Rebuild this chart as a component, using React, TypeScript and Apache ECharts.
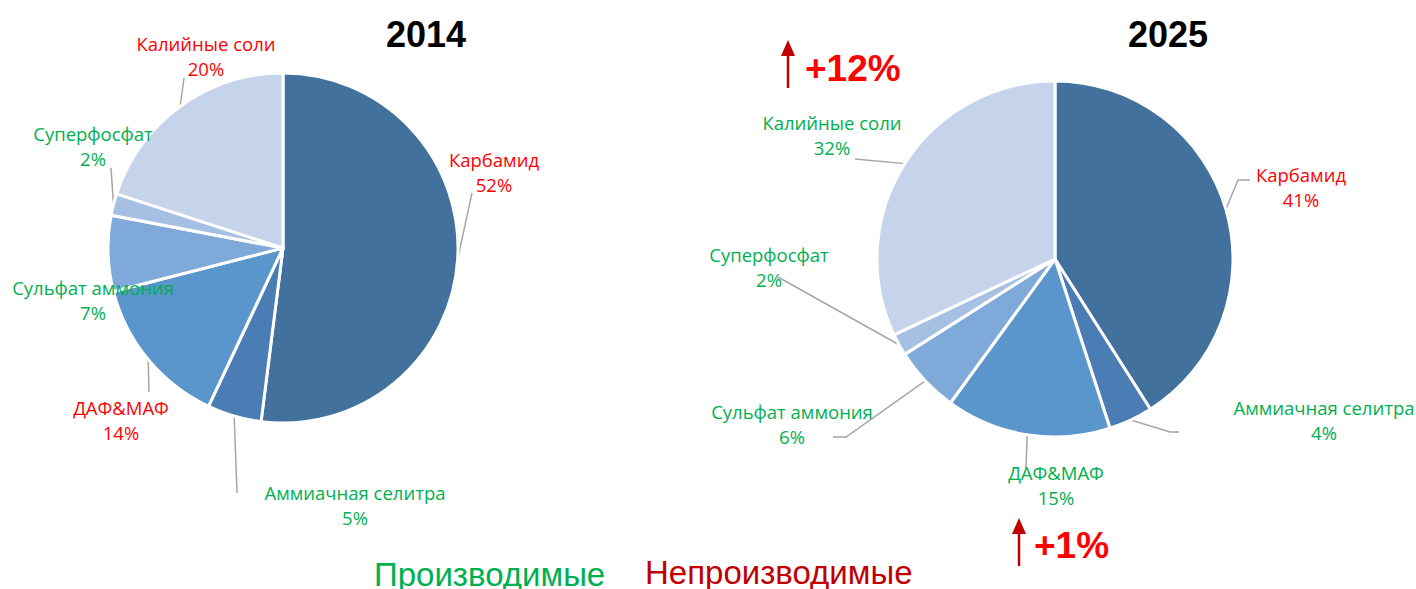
import React, { useEffect, useRef } from "react";
import * as echarts from "echarts";

const categories = [
  "Карбамид",
  "Аммиачная селитра",
  "ДАФ&МАФ",
  "Сульфат аммония",
  "Суперфосфат",
  "Калийные соли",
];
const values2014 = [52, 5, 14, 7, 2, 20];
const values2025 = [41, 4, 15, 6, 2, 32];
// true = produced (green), false = not produced (red)
const produced2014 = [false, true, false, true, true, false];
const produced2025 = [false, true, true, true, true, true];
const sliceColors = ["#41719C", "#4A7DB4", "#5A96CB", "#7EA9D9", "#A6C0E4", "#C5D4EA"];
const yearLabels = ["2014", "2025"];
const changeLabels = ["+12%", "+1%"];
const legendLabels = ["Производимые", "Непроизводимые"];

// label anchor positions (layout only)
const labelPos2014 = [
  [494, 172],
  [355, 505],
  [121, 420],
  [93, 300],
  [93, 146],
  [206, 56],
];
const labelPos2025 = [
  [1301, 187],
  [1324, 420],
  [1056, 485],
  [792, 424],
  [769, 267],
  [832, 135],
];
// label-line bend/end points after the library's start point on the slice edge (layout only)
const lineEnds2014: number[][][] = [
  [[472, 193]],
  [[237, 493]],
  [[149, 392]],
  [],
  [[111, 168]],
  [[184, 78]],
];
const lineEnds2025: number[][][] = [
  [[1238, 180], [1250, 180]],
  [[1170, 432], [1179, 432]],
  [[1026, 468]],
  [[846, 437], [833, 437]],
  [[778, 277]],
  [[855, 159]],
];

const GREEN = "#00B050";
const RED = "#FF0000";
const DARKRED = "#C00000";
const LABEL_FONT = "Open Sans";

function buildData(values: number[], produced: boolean[], hideLine: number[]) {
  return categories.map((name, i) => ({
    name,
    value: values[i],
    itemStyle: { color: sliceColors[i] },
    label: { color: produced[i] ? GREEN : RED },
    labelLine: { show: hideLine.indexOf(i) < 0 },
  }));
}

function makeLayout(pos: number[][], ends: number[][][]) {
  return (p: any) => {
    const i = p.dataIndex;
    const out: any = {
      x: pos[i][0],
      y: pos[i][1],
      align: "center",
      verticalAlign: "middle",
    };
    if (p.labelLinePoints && p.labelLinePoints.length && ends[i].length) {
      out.labelLinePoints = [p.labelLinePoints[0], ...ends[i]];
    }
    return out;
  };
}

function arrow(x: number, yTop: number, yBottom: number) {
  return [
    {
      type: "line",
      shape: { x1: x, y1: yBottom, x2: x, y2: yTop + 14 },
      style: { stroke: DARKRED, lineWidth: 2.5 },
    },
    {
      type: "polygon",
      shape: { points: [[x - 7, yTop + 16], [x + 7, yTop + 16], [x, yTop]] },
      style: { fill: DARKRED },
    },
  ];
}

export default function App() {
  const ref = useRef<HTMLDivElement>(null);
  useEffect(() => {
    document.body.style.margin = "0";
    if (!ref.current) return;
    const chart = echarts.init(ref.current, undefined, { renderer: "svg" });
    const seriesCommon = {
      type: "pie",
      startAngle: 90,
      clockwise: true,
      avoidLabelOverlap: false,
      itemStyle: { borderColor: "#ffffff", borderWidth: 3 },
      label: {
        show: true,
        position: "outside",
        formatter: "{b}\n{c}%",
        fontFamily: LABEL_FONT,
        fontSize: 18.5,
        lineHeight: 25,
        align: "center",
      },
      labelLine: {
        show: true,
        length: 15,
        length2: 10,
        smooth: false,
        lineStyle: { color: "#A6A6A6", width: 1.5 },
      },
      emphasis: { disabled: true },
    };
    chart.setOption({
      animation: false,
      backgroundColor: "#ffffff",
      series: [
        {
          ...seriesCommon,
          center: [283, 248],
          radius: 175,
          data: buildData(values2014, produced2014, [3]),
          labelLayout: makeLayout(labelPos2014, lineEnds2014),
        },
        {
          ...seriesCommon,
          center: [1055, 259],
          radius: 178,
          data: buildData(values2025, produced2025, []),
          labelLayout: makeLayout(labelPos2025, lineEnds2025),
        },
      ],
      graphic: [
        {
          type: "text",
          style: {
            text: yearLabels[0],
            x: 426,
            y: 34,
            textAlign: "center",
            textVerticalAlign: "middle",
            font: "bold 36px Liberation Sans, Arial, sans-serif",
            fill: "#000000",
          },
        },
        {
          type: "text",
          style: {
            text: yearLabels[1],
            x: 1168,
            y: 34,
            textAlign: "center",
            textVerticalAlign: "middle",
            font: "bold 36px Liberation Sans, Arial, sans-serif",
            fill: "#000000",
          },
        },
        ...arrow(788, 40, 88),
        {
          type: "text",
          style: {
            text: changeLabels[0],
            x: 805,
            y: 68,
            textAlign: "left",
            textVerticalAlign: "middle",
            font: "bold 37px Liberation Sans, Arial, sans-serif",
            fill: RED,
          },
        },
        ...arrow(1019, 518, 566),
        {
          type: "text",
          style: {
            text: changeLabels[1],
            x: 1034,
            y: 545,
            textAlign: "left",
            textVerticalAlign: "middle",
            font: "bold 37px Liberation Sans, Arial, sans-serif",
            fill: RED,
          },
        },
        {
          type: "text",
          style: {
            text: legendLabels[0],
            x: 374,
            y: 574,
            textAlign: "left",
            textVerticalAlign: "middle",
            font: "33px Liberation Sans, Arial, sans-serif",
            fill: GREEN,
          },
        },
        {
          type: "text",
          style: {
            text: legendLabels[1],
            x: 645,
            y: 572,
            textAlign: "left",
            textVerticalAlign: "middle",
            font: "33px Liberation Sans, Arial, sans-serif",
            fill: DARKRED,
          },
        },
      ],
    });
    return () => chart.dispose();
  }, []);
  return <div ref={ref} style={{ width: 1416, height: 589 }} />;
}
